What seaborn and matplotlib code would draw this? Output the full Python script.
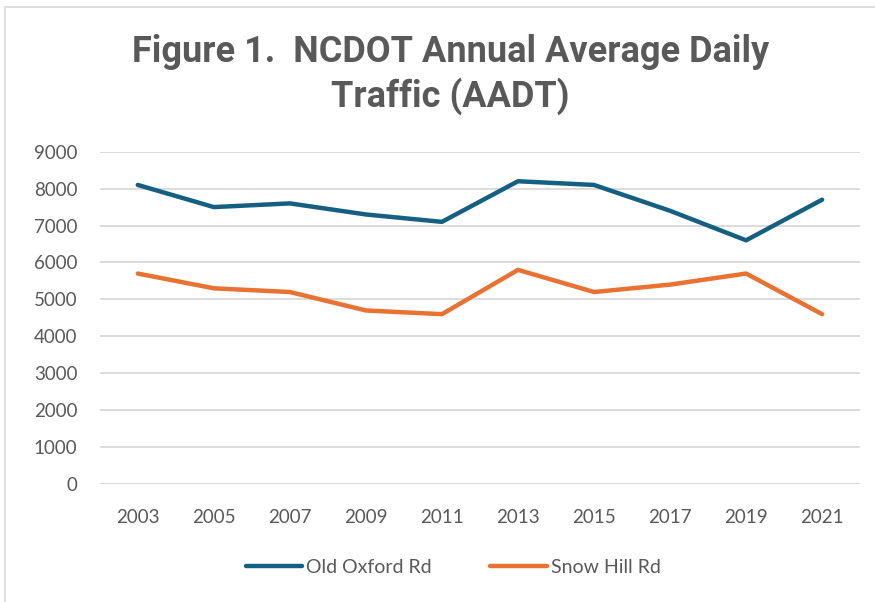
import matplotlib
matplotlib.use("Agg")
import matplotlib.pyplot as plt
import matplotlib.patches as mpatches
import seaborn as sns
import pandas as pd
from matplotlib import font_manager

OUTPUT_FILE = "out.png"

years = ["2003", "2005", "2007", "2009", "2011", "2013", "2015", "2017", "2019", "2021"]
old_oxford = [8100, 7500, 7600, 7300, 7100, 8200, 8100, 7400, 6600, 7700]
snow_hill = [5700, 5300, 5200, 4700, 4600, 5800, 5200, 5400, 5700, 4600]
series_names = ["Old Oxford Rd", "Snow Hill Rd"]
colors = ["#156082", "#E97132"]

sns.set_theme(style="white")
plt.rcParams["font.family"] = ["Lato", "DejaVu Sans"]

names = {f.name for f in font_manager.fontManager.ttflist}
title_font = "Liberation Sans Narrow" if "Liberation Sans Narrow" in names else "Roboto"

df = pd.DataFrame({
    "Year": years * 2,
    "AADT": old_oxford + snow_hill,
    "Road": [series_names[0]] * len(years) + [series_names[1]] * len(years),
})

fig = plt.figure(figsize=(8.75, 6.02), dpi=100)
ax = fig.add_axes([0.114, 0.196, 0.869, 0.552])

sns.lineplot(data=df, x="Year", y="AADT", hue="Road", palette=colors,
             linewidth=3.2, sort=False, ax=ax, legend=False)
for line in ax.lines:
    line.set_solid_capstyle("round")

ax.set_xlim(-0.5, len(years) - 0.5)
ax.set_ylim(0, 9000)
ax.set_yticks(range(0, 9001, 1000))
ax.yaxis.grid(True, color="#D9D9D9", linewidth=1.3)
ax.xaxis.grid(False)
for s in ax.spines.values():
    s.set_visible(False)
ax.set_xlabel("")
ax.set_ylabel("")
ax.tick_params(axis="both", length=0, labelsize=13.5, colors="#595959")
ax.tick_params(axis="x", pad=18)
ax.tick_params(axis="y", pad=16)

fig.text(0.515, 0.877, "Figure 1.  NCDOT Annual Average Daily\nTraffic (AADT)",
         ha="center", va="center", fontsize=26, fontweight="bold",
         color="#595959", family=[title_font, "DejaVu Sans"], linespacing=1.25)

handles = [plt.Line2D([], [], color=c, linewidth=3.2, solid_capstyle="round") for c in colors]
fig.legend(handles, series_names, loc="center", bbox_to_anchor=(0.518, 0.058), ncol=2,
           frameon=False, fontsize=14, labelcolor="#595959", handlelength=2.9,
           handletextpad=0.2, columnspacing=3.0)

fig.patches.append(mpatches.Rectangle((0.006, -0.01), 1.0, 0.998, transform=fig.transFigure,
                                      fill=False, edgecolor="#D9D9D9", linewidth=1.2))

plt.savefig(OUTPUT_FILE, dpi=100)
plt.close()
